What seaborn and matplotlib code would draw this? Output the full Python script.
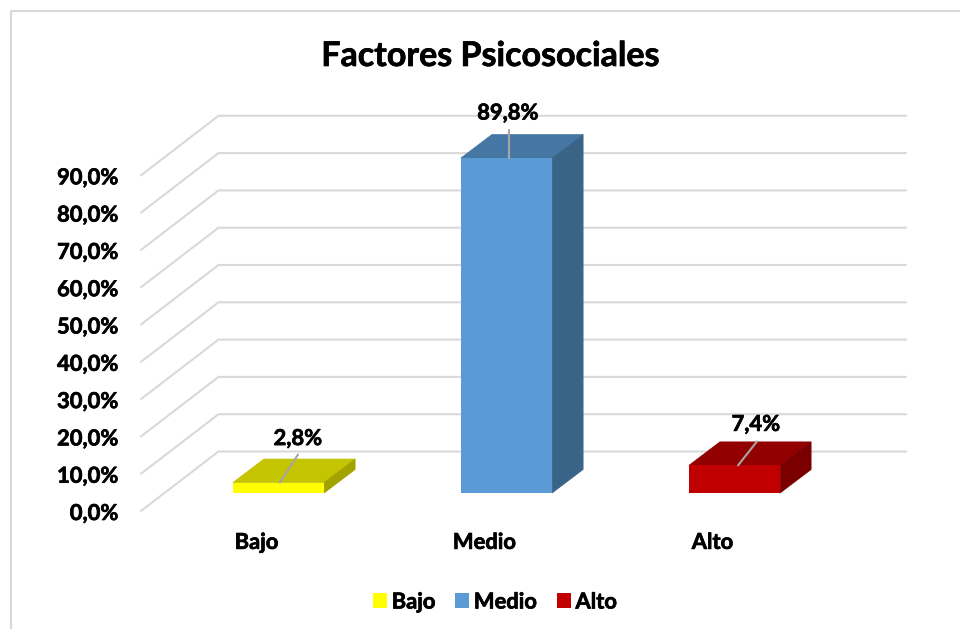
import matplotlib
matplotlib.use("Agg")
import matplotlib.pyplot as plt
from matplotlib.lines import Line2D
from matplotlib.patches import Polygon, Patch
from matplotlib.transforms import ScaledTranslation
import matplotlib.patheffects as pe
import pandas as pd
import seaborn as sns

# data
categories = ["Bajo", "Medio", "Alto"]
values = [2.8, 89.8, 7.4]
value_labels = ["2,8%", "89,8%", "7,4%"]
tick_values = [0, 10, 20, 30, 40, 50, 60, 70, 80, 90]
tick_labels = ["0,0%", "10,0%", "20,0%", "30,0%", "40,0%", "50,0%", "60,0%", "70,0%", "80,0%", "90,0%"]

# styling
front_colors = ["#FFFF00", "#5B9BD5", "#C00000"]
top_colors = ["#C4C400", "#4677A4", "#930000"]
side_colors = ["#A3A300", "#3A6487", "#7A0000"]
grid_color = "#D9D9D9"
label_offsets = [(19.5, -44), (1.5, -45), (21.5, -41)]
leader_ends = [(19.5, -28), (2, -28), (22.5, -24)]
leader_starts = [(1.5, 0), (2, 0), (3.5, 0)]
text_size = 15.8
heavier = [pe.withStroke(linewidth=0.5, foreground="black")]

W, H = 960, 629
sns.set_theme(style="white")
plt.rcParams["font.family"] = ["Lato", "DejaVu Sans"]
plt.rcParams["font.weight"] = "bold"

fig = plt.figure(figsize=(W / 100, H / 100), dpi=100)
# axes = the plane holding the bar fronts, 3 bands of 228 px, 100 units = 373 px
left, right, bottom, top = 164.5, 848.5, 493, 120
ax = fig.add_axes([left / W, 1 - bottom / H, (right - left) / W, (bottom - top) / H])

df = pd.DataFrame({"nivel": categories, "valor": values})
sns.barplot(data=df, x="nivel", y="valor", hue="nivel", palette=front_colors,
            width=0.4, saturation=1, legend=False, ax=ax, zorder=5, linewidth=0)
ax.set_xlim(-0.5, 2.5)
ax.set_ylim(0, 100)
ax.set_xlabel("")
ax.set_ylabel("")
ax.patch.set_alpha(0)
sns.despine(ax=ax, left=True, bottom=True)


def shift(dx, dy):
    # pixel offset on top of the data coords, dy counted upward
    return ax.transData + ScaledTranslation(dx / 100, dy / 100, fig.dpi_scale_trans)


# floor and back wall lines, drawn from the plane of the bars
to_px = (right - left) / 3
wall_front = (-23.5, -18)
wall_back = (54, 41.5)
x0 = -0.5
x1 = x0 + (906 - 54 - left) / to_px
for v in tick_values:
    p0 = shift(*wall_front).transform((x0, v))
    p1 = shift(*wall_back).transform((x0, v))
    p2 = shift(*wall_back).transform((x1, v))
    line = Line2D([p0[0], p1[0], p2[0]], [p0[1], p1[1], p2[1]], transform=None,
                  color=grid_color, lw=1.5, zorder=1, clip_on=False)
    ax.add_line(line)

# 3d faces from the seaborn bars
depth = (31, 23.5)
for bar, tc, sc in zip(ax.patches, top_colors, side_colors):
    bx, bw, bh = bar.get_x(), bar.get_width(), bar.get_height()
    pa = ax.transData.transform((bx, bh))
    pb = ax.transData.transform((bx + bw, bh))
    pc = ax.transData.transform((bx + bw, 0))
    ax.add_patch(Polygon([pa, pb, pb + depth, pa + depth], closed=True, transform=None,
                         facecolor=tc, edgecolor=tc, lw=0.5, zorder=4, clip_on=False))
    ax.add_patch(Polygon([pb, pc, pc + depth, pb + depth], closed=True, transform=None,
                         facecolor=sc, edgecolor=sc, lw=0.5, zorder=4, clip_on=False))

# value labels with their leader lines
for i, v in enumerate(values):
    ex, ey = leader_ends[i]
    start = shift(*leader_starts[i]).transform((i, v))
    end = shift(ex, -ey).transform((i, v))
    ax.add_line(Line2D([start[0], end[0]], [start[1], end[1]], transform=None,
                       color="#A6A6A6", lw=1.5, zorder=6, clip_on=False))
    ox, oy = label_offsets[i]
    ax.text(i, v, value_labels[i], transform=shift(ox, -oy), ha="center", va="center",
            fontsize=text_size, fontweight="bold", color="black", zorder=7, path_effects=heavier)

# axis tick labels, pushed out to the front of the floor
ax.set_yticks(tick_values)
ax.set_yticklabels(tick_labels, fontsize=text_size, fontweight="bold", color="black", path_effects=heavier)
ax.tick_params(axis="y", length=0, pad=33)
for lab in ax.get_yticklabels():
    lab.set_transform(lab.get_transform() + ScaledTranslation(0, -18.5 / 100, fig.dpi_scale_trans))
ax.set_xticks(range(len(categories)))
ax.set_xticklabels(categories, fontsize=text_size, fontweight="bold", color="black", path_effects=heavier)
ax.tick_params(axis="x", length=0, pad=28)
for lab in ax.get_xticklabels():
    lab.set_transform(lab.get_transform() + ScaledTranslation(-22 / 100, 0, fig.dpi_scale_trans))

fig.text(490.5 / W, 1 - 56 / H, "Factores Psicosociales", ha="center", va="center",
         fontsize=24.5, fontweight="bold", color="black", path_effects=heavier)

handles = [Patch(facecolor=c, label=n, linewidth=0) for c, n in zip(front_colors, categories)]
leg = fig.legend(handles=handles, ncol=3, loc="center", bbox_to_anchor=(495 / W, 1 - 602 / H),
                 frameon=False, prop={"size": text_size, "weight": "bold"}, labelcolor="black",
                 handlelength=0.65, handleheight=0.65, handletextpad=0.2, columnspacing=0.9)
for t in leg.get_texts():
    t.set_path_effects(heavier)

# chart border, only left and top fall inside the crop
fig.add_artist(Line2D([10.5 / W, 10.5 / W, 1], [0, 1 - 11 / H, 1 - 11 / H],
                      color=grid_color, lw=1.5))

fig.savefig("out.png", dpi=100)
plt.close(fig)
